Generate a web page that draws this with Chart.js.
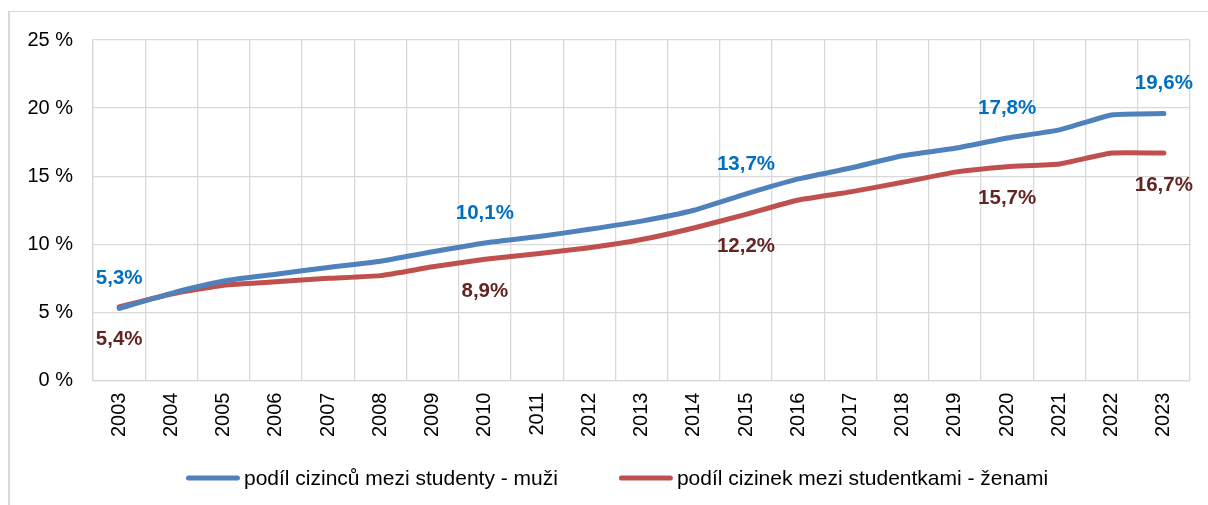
<!DOCTYPE html>
<html><head><meta charset="utf-8">
<script src="https://cdn.jsdelivr.net/npm/chart.js@4.4.0/dist/chart.umd.min.js"></script>
<style>
html,body{margin:0;padding:0;background:#fff;}
#wrap{position:relative;width:1208px;height:505px;overflow:hidden;background:#fff;}
#frame{position:absolute;left:8px;top:11px;width:1300px;height:600px;border-top:1.5px solid #d9d9d9;border-left:2px solid #d9d9d9;}
canvas{position:absolute;left:0;top:0;}
</style></head><body>
<div id="wrap"><div id="frame"></div><canvas id="c" width="1208" height="505"></canvas></div>
<script>
const years = ['2003','2004','2005','2006','2007','2008','2009','2010','2011','2012','2013','2014','2015','2016','2017','2018','2019','2020','2021','2022','2023'];
const menShare = [5.3, 6.4, 7.3, 7.8, 8.3, 8.75, 9.45, 10.1, 10.55, 11.1, 11.7, 12.5, 13.7, 14.8, 15.6, 16.5, 17.05, 17.8, 18.4, 19.5, 19.6];
const womenShare = [5.4, 6.35, 7.0, 7.25, 7.5, 7.7, 8.35, 8.9, 9.3, 9.75, 10.35, 11.2, 12.2, 13.25, 13.85, 14.55, 15.3, 15.7, 15.9, 16.7, 16.7];
const labeledYears = ['2003','2010','2015','2020','2023'];
const seriesNames = ['podíl cizinců mezi studenty - muži', 'podíl cizinek mezi studentkami - ženami'];
const yMin = 0, yMax = 25, yStep = 5;

const FONT = '"Liberation Sans", Arial, sans-serif';
Chart.defaults.font.family = FONT;
Chart.defaults.color = '#000';

const dataLabelPlugin = {
  id: 'dataLabels',
  afterDatasetsDraw(chart) {
    const ctx = chart.ctx;
    chart.data.datasets.forEach((ds, di) => {
      const meta = chart.getDatasetMeta(di);
      meta.data.forEach((pt, i) => {
        if (!labeledYears.includes(chart.data.labels[i])) return;
        const txt = ds.data[i].toFixed(1).replace('.', ',') + '%';
        ctx.save();
        ctx.font = 'bold 20.5px ' + FONT;
        ctx.fillStyle = ds.labelColor;
        ctx.textAlign = 'center';
        ctx.textBaseline = 'middle';
        ctx.fillText(txt, pt.x, pt.y + ds.labelOffset);
        ctx.restore();
      });
    });
  }
};

const legendPlugin = {
  id: 'bottomLegend',
  afterDraw(chart) {
    const ctx = chart.ctx;
    ctx.save();
    ctx.font = '21px ' + FONT;
    const lineLen = 54, gapText = 4, gapItem = 61, cy = 478, centerX = 617;
    const items = chart.data.datasets.map(ds => ({ text: ds.label, color: ds.borderColor, w: ctx.measureText(ds.label).width }));
    const total = items.reduce((s, it) => s + lineLen + gapText + it.w, 0) + gapItem * (items.length - 1);
    let x = centerX - total / 2;
    items.forEach(it => {
      ctx.strokeStyle = it.color;
      ctx.lineWidth = 5;
      ctx.lineCap = 'round';
      ctx.beginPath();
      ctx.moveTo(x + 2.5, cy);
      ctx.lineTo(x + lineLen - 2.5, cy);
      ctx.stroke();
      ctx.fillStyle = '#000';
      ctx.textAlign = 'left';
      ctx.textBaseline = 'middle';
      ctx.fillText(it.text, x + lineLen + gapText, cy + 1);
      x += lineLen + gapText + it.w + gapItem;
    });
    ctx.restore();
  }
};

new Chart(document.getElementById('c'), {
  type: 'line',
  data: {
    labels: years,
    datasets: [
      { label: seriesNames[0], data: menShare, borderColor: '#4F81BD', backgroundColor: '#4F81BD', borderWidth: 5, pointRadius: 0, tension: 0.15, borderCapStyle: 'round', borderJoinStyle: 'round', labelColor: '#0070C0', labelOffset: -30 },
      { label: seriesNames[1], data: womenShare, borderColor: '#C0504D', backgroundColor: '#C0504D', borderWidth: 5, pointRadius: 0, tension: 0.15, borderCapStyle: 'round', borderJoinStyle: 'round', labelColor: '#632523', labelOffset: 32 }
    ]
  },
  options: {
    responsive: false,
    animation: false,
    devicePixelRatio: 1,
    layout: { padding: { top: 40, left: 7.5, right: 18, bottom: 56 } },
    plugins: { legend: { display: false }, tooltip: { enabled: false } },
    scales: {
      x: {
        offset: true,
        grid: { offset: true, color: '#d9d9d9', lineWidth: 1.3, drawTicks: false },
        border: { color: '#d9d9d9', width: 1.3 },
        ticks: { minRotation: 90, maxRotation: 90, autoSkip: false, padding: 12, color: '#000', font: { size: 20 } }
      },
      y: {
        min: yMin, max: yMax,
        grid: { color: '#d9d9d9', lineWidth: 1.3, drawTicks: false },
        border: { color: '#d9d9d9', width: 1.3 },
        ticks: { stepSize: yStep, padding: 20, color: '#000', font: { size: 20 }, callback: v => v + ' %' }
      }
    }
  },
  plugins: [dataLabelPlugin, legendPlugin]
});
</script>
</body></html>
